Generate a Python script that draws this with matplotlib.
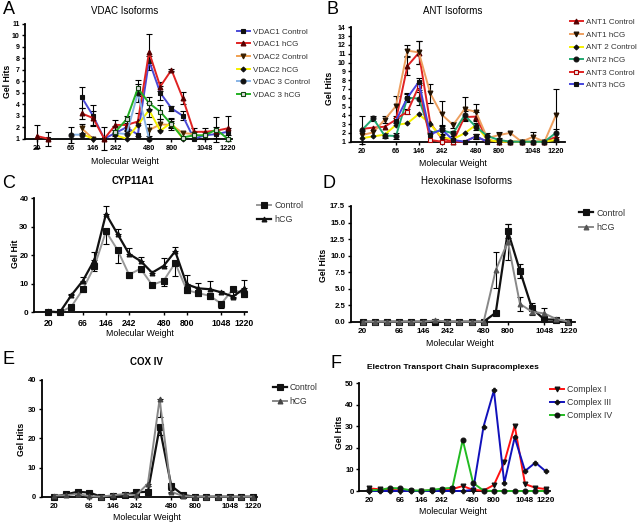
import numpy as np
import matplotlib
matplotlib.use("Agg")
import matplotlib.pyplot as plt

plt.rcParams['font.family'] = ['Liberation Sans', 'DejaVu Sans']

nan = np.nan
positions = list(range(18))
tick_idx = [0, 3, 5, 7, 10, 12, 15, 17]
tick_labels = ["20", "66", "146", "242", "480", "800", "1048", "1220"]

# ---- Panel A: VDAC isoforms ----
vdac_labels = ["VDAC1 Control", "VDAC1 hCG", "VDAC2 Control", "VDAC2 hCG", "VDAC 3 Control", "VDAC 3 hCG"]
vdac1_ctrl = [nan, 1.0, nan, nan, 4.6, 3.0, 1.0, 1.5, 2.0, 1.35, 7.8, 5.0, 3.65, 3.0, 1.0, 1.3, 1.4, 1.6]
vdac1_hcg = [1.23, 1.0, nan, nan, 3.2, 2.8, 1.0, 2.2, 2.2, 2.5, 8.55, 5.55, 7.0, 4.55, 1.6, 1.6, 1.7, 1.9]
vdac2_ctrl = [nan, nan, nan, nan, 1.9, 1.0, nan, nan, nan, nan, 1.75, 2.25, 2.2, 1.5, 1.4, nan, nan, nan]
vdac2_hcg = [nan, nan, nan, nan, 1.4, 1.0, nan, 1.3, 1.0, 2.2, 3.5, 1.7, 2.4, 1.0, nan, nan, nan, nan]
vdac3_ctrl = [nan, nan, nan, 1.35, 1.35, nan, nan, 1.5, 1.4, 5.0, 1.0, nan, nan, nan, nan, nan, nan, nan]
vdac3_hcg = [nan, nan, nan, nan, nan, nan, nan, 1.6, 2.7, 5.4, 4.1, 3.35, 2.25, 1.1, 1.3, 1.3, 1.8, 1.0]
vdac1_ctrl_err = [0, 0.6, 0, 0, 0.9, 0.9, 0, 0.3, 0.3, 0, 0.4, 0.6, 0.2, 0.4, 0, 0.3, 0.3, 0.3]
vdac1_hcg_err = [1.0, 0, 0, 0, 0.5, 0.6, 1.0, 0.4, 0.4, 0, 1.6, 0.4, 0.1, 0.5, 0.3, 0.3, 0.3, 1.1]
vdac2_ctrl_err = [0, 0, 0, 0, 0.4, 0, 0, 0, 0, 0, 0.5, 0.5, 0.3, 0, 0, 0, 0, 0]
vdac2_hcg_err = [0, 0, 0, 0, 0, 0, 0, 0, 0, 1.0, 0.6, 0, 0.4, 0, 0, 0, 0, 0]
vdac3_ctrl_err = [0, 0, 0, 0.7, 0, 0, 0, 0, 0, 0.8, 0, 0, 0, 0, 0, 0, 0, 0]
vdac3_hcg_err = [0, 0, 0, 0, 0, 0, 0, 0.5, 0.3, 0.7, 0.5, 0.6, 0.5, 0, 0.3, 0.3, 1.1, 0]

# ---- Panel B: ANT isoforms ----
ant_labels = ["ANT1 Control", "ANT1 hCG", "ANT 2 Control", "ANT2 hCG", "ANT3 Control", "ANT3 hCG"]
ant1_ctrl = [2.45, 2.6, 2.7, 3.5, 9.6, 11.1, 3.1, 1.4, 1.0, 3.8, 3.85, 1.2, 1.0, 1.0, 1.0, 1.0, 1.0, 1.55]
ant1_hcg = [1.75, 2.05, 3.5, 5.05, 11.35, 11.15, 6.5, 4.1, 2.9, 4.7, 4.4, 1.4, 1.75, 2.0, 1.0, 1.55, 1.0, 4.0]
ant2_ctrl = [1.4, 1.6, 1.8, 2.9, 3.1, 4.15, 3.0, 1.5, 1.3, 1.95, 2.9, 1.2, 1.0, 1.0, 1.0, 1.0, 1.0, 1.2]
ant2_hcg = [2.3, 3.65, 1.7, 1.65, 6.0, 5.9, 2.0, 2.3, 1.95, 4.0, 2.7, 1.65, 1.2, 1.0, 1.0, 1.0, 1.0, 2.0]
ant3_ctrl = [nan, nan, nan, 3.6, 4.4, 7.3, 1.2, 1.0, 1.0, 1.0, 1.6, 1.0, nan, nan, nan, nan, nan, nan]
ant3_hcg = [nan, nan, nan, 3.4, 6.0, 7.8, 1.8, 2.4, 1.2, 1.0, 1.6, 1.0, nan, nan, nan, nan, nan, nan]
ant1_ctrl_err = [0, 0, 0, 0, 1.0, 1.3, 0, 0, 0, 0, 0.5, 0, 0, 0, 0, 0, 0, 0]
ant1_hcg_err = [0, 0, 0.4, 1.1, 0.65, 1.3, 1.1, 1.5, 0.3, 1.4, 0.9, 0, 0.3, 0, 0, 0.5, 0, 3.0]
ant2_ctrl_err = [0, 0, 0, 0, 0, 0, 0, 0, 0, 0, 0, 0, 0, 0, 0, 0, 0, 0]
ant2_hcg_err = [1.6, 0.3, 0.3, 0.3, 0.5, 0.7, 0, 0.5, 0.3, 0.5, 0.4, 0.3, 0, 0, 0, 0, 0, 0.5]
ant3_ctrl_err = [0, 0, 0, 0, 0.3, 0.4, 0, 0, 0, 0, 0.3, 0, 0, 0, 0, 0, 0, 0]
ant3_hcg_err = [0, 0, 0, 0.3, 0.4, 0.4, 0, 0.5, 0, 0, 0.3, 0, 0, 0, 0, 0, 0, 0]

# ---- Panel C: CYP11A1 ----
cyp_ctrl = [0.0, 0.0, 2.0, 8.1, 16.1, 28.4, 21.9, 13.2, 15.3, 9.6, 11.1, 17.3, 7.8, 6.7, 5.8, 3.0, 8.1, 6.4]
cyp_hcg = [0.3, 0.0, 6.0, 11.1, 18.4, 34.5, 27.5, 20.5, 18.0, 13.9, 16.3, 21.4, 9.8, 8.4, 8.1, 7.0, 5.5, 8.4]
cyp_ctrl_err = [0, 0, 1.0, 1.0, 1.5, 4.3, 4.5, 1.0, 1.2, 0.6, 2.0, 4.5, 1.0, 1.0, 1.2, 1.5, 3.0, 1.0]
cyp_hcg_err = [0.5, 0, 0.5, 1.3, 2.6, 2.9, 1.7, 2.2, 1.5, 0.5, 2.9, 1.4, 3.2, 1.8, 3.0, 0.5, 0.5, 2.9]

# ---- Panel D: Hexokinase ----
hex_ctrl = [0, 0, 0, 0, 0, 0, 0, 0, 0, 0, 0, 1.36, 13.7, 7.7, 2.0, 0.35, 0.3, 0.0]
hex_hcg = [0, 0, 0, 0, 0, 0, 0.2, 0, 0, 0, 0, 7.8, 12.1, 2.7, 1.5, 1.26, 0.4, 0.0]
hex_ctrl_err = [0, 0, 0, 0, 0, 0, 0, 0, 0, 0, 0, 0.2, 1.1, 1.1, 0.9, 0, 0, 0]
hex_hcg_err = [0, 0, 0, 0, 0, 0, 0, 0, 0, 0, 0, 2.7, 2.7, 1.1, 0.5, 0.8, 0, 0]

# ---- Panel E: COX IV ----
cox_ctrl = [0.0, 0.8, 1.7, 1.4, 0.0, 0.2, 0.6, 1.5, 1.7, 23.8, 3.7, 0.6, 0, 0, 0, 0, 0, 0]
cox_hcg = [0.4, 0.5, 0.9, 0.2, 0.0, 0.5, 0.9, 0.5, 4.5, 33.4, 1.7, 0.2, 0, 0, 0, 0, 0, 0]
cox_ctrl_err = [0, 0.2, 0.3, 0.3, 0, 0.3, 0.3, 0.3, 0.5, 2.8, 1.3, 0.2, 0, 0, 0, 0, 0, 0]
cox_hcg_err = [0, 0.2, 0.3, 0.3, 0, 0.3, 0.3, 0.3, 1.0, 6.0, 0.5, 0, 0, 0, 0, 0, 0, 0]

# ---- Panel F: ETC supracomplexes ----
etc_labels = ["Complex I", "Complex III", "Complex IV"]
complex1 = [1.2, 0.8, 0.5, 0.3, 0.0, 0.0, 0.3, 0.5, 0.9, 2.3, 0.5, 0.2, 2.8, 13.3, 30.3, 3.2, 1.5, 0.9]
complex3 = [0, 0, 0, 0, 0, 0, 0, 0, 0, 0, 0.5, 29.9, 46.7, 3.6, 24.9, 9.3, 13.2, 9.1]
complex4 = [0.3, 0.5, 1.4, 1.2, 0.3, 0.2, 0.5, 1.1, 1.5, 23.7, 3.7, 0.2, 0, 0, 0, 0, 0, 0]

W, H = 640, 525
fig = plt.figure(figsize=(6.4, 5.25), dpi=100)


def fx(x):
    return x / W


def fy(y):
    return 1 - y / H


def make_ax(l, t, r, b, xlim, ylim, yticks, yfmt=None, xfs=5.5, yfs=5.3):
    ax = fig.add_axes([fx(l), fy(b), fx(r) - fx(l), fy(t) - fy(b)])
    ax.set_xlim(*xlim)
    ax.set_ylim(*ylim)
    for s in ['top', 'right']:
        ax.spines[s].set_visible(False)
    for s in ['left', 'bottom']:
        ax.spines[s].set_linewidth(1.3)
    ax.set_xticks(tick_idx)
    ax.set_xticklabels(tick_labels, fontsize=xfs, fontweight='bold')
    ax.set_yticks(yticks)
    if yfmt:
        ax.set_yticklabels([yfmt.format(v) for v in yticks])
    ax.tick_params(axis='x', direction='out', length=2.5, width=1.0, pad=2.0)
    ax.tick_params(axis='y', direction='out', length=2.5, width=1.0, pad=1.5, labelsize=yfs)
    for lab in ax.get_yticklabels():
        lab.set_fontweight('bold')
    return ax


def series(ax, y, err, color, marker, mfc, mec, label, errdir='both', ms=3.5, lw=1.4, z=3):
    y = np.array(y, dtype=float)
    if err is not None:
        err = np.array(err, dtype=float)
        lo = err if errdir in ('both', 'down') else np.zeros_like(err)
        hi = err if errdir in ('both', 'up') else np.zeros_like(err)
        mask = (err > 0) & ~np.isnan(y)
        ax.errorbar(np.array(positions)[mask], y[mask], yerr=[lo[mask], hi[mask]],
                    fmt='none', ecolor='black', elinewidth=0.8, capsize=2, capthick=0.8,
                    zorder=z - 1, clip_on=False)
    ax.plot(positions, y, color=color, lw=lw, marker=marker, ms=ms, mfc=mfc, mec=mec, mew=0.8,
            label=label, zorder=z, clip_on=False)


def legend(ax, x, y, fs=5.8, spacing=0.62, hl=1.6):
    leg = ax.legend(loc='upper left', bbox_to_anchor=(fx(x), fy(y)), bbox_transform=fig.transFigure,
                    frameon=False, fontsize=fs, handlelength=hl, handletextpad=0.35, labelspacing=spacing,
                    borderpad=0, borderaxespad=0)
    for t in leg.get_texts():
        t.set_color('#333333')
    return leg


def label_texts(title, title_xy, title_kw, xl_xy, yl_xy, ylab, letter, letter_xy):
    fig.text(fx(title_xy[0]), fy(title_xy[1]), title, ha='center', va='center', **title_kw)
    fig.text(fx(xl_xy[0]), fy(xl_xy[1]), "Molecular Weight", ha='center', va='center', fontsize=6.3)
    fig.text(fx(yl_xy[0]), fy(yl_xy[1]), ylab, ha='center', va='center', rotation=90, fontsize=6.3, fontweight='bold')
    fig.text(fx(letter_xy[0]), fy(letter_xy[1]), letter, ha='left', va='center', fontsize=13)


# Panel A
axA = make_ax(25, 24, 232, 138.7, (-1.07, 17.4), (1, 11), list(range(1, 12)), xfs=5.3, yfs=5.0)
series(axA, vdac1_ctrl, vdac1_ctrl_err, '#4a4ad6', 's', '#111111', '#111111', vdac_labels[0])
series(axA, vdac1_hcg, vdac1_hcg_err, '#e02222', '^', '#550000', '#550000', vdac_labels[1])
series(axA, vdac2_ctrl, vdac2_ctrl_err, '#f0a050', 'v', '#3a2000', '#3a2000', vdac_labels[2])
series(axA, vdac2_hcg, vdac2_hcg_err, '#f5f000', 'D', '#111111', '#111111', vdac_labels[3], ms=2.5)
series(axA, vdac3_ctrl, vdac3_ctrl_err, '#88b4e6', 'o', '#111111', '#111111', vdac_labels[4])
series(axA, vdac3_hcg, vdac3_hcg_err, '#22b022', 's', '#dddddd', '#114411', vdac_labels[5])
legend(axA, 237, 28)
label_texts("VDAC Isoforms", (125, 11), dict(fontsize=7), (125, 161), (8, 81), "Gel Hits", "A", (3, 9))

# Panel B
axB = make_ax(351, 27.3, 565, 141.7, (-0.94, 17.8), (1, 14), list(range(1, 15)), xfs=5.3, yfs=5.0)
series(axB, ant1_ctrl, ant1_ctrl_err, '#e02222', '^', '#550000', '#550000', ant_labels[0])
series(axB, ant1_hcg, ant1_hcg_err, '#eea060', 'v', '#221100', '#221100', ant_labels[1])
series(axB, ant2_ctrl, ant2_ctrl_err, '#f5f000', 'D', '#111111', '#111111', ant_labels[2], ms=2.5)
series(axB, ant2_hcg, ant2_hcg_err, '#20a870', 'o', '#111111', '#111111', ant_labels[3])
series(axB, ant3_ctrl, ant3_ctrl_err, '#e02222', 's', '#eeeeee', '#aa0000', ant_labels[4])
series(axB, ant3_hcg, ant3_hcg_err, '#4444dd', 's', '#111111', '#111111', ant_labels[5])
legend(axB, 570, 18.5)
label_texts("ANT Isoforms", (453, 11), dict(fontsize=7), (453, 163), (330, 88), "Gel Hits", "B", (326, 9))

# Panel C
axC = make_ax(34, 198.3, 246.7, 312.3, (-1.24, 17.2), (0, 40), [0, 10, 20, 30, 40], xfs=6.2, yfs=5.8)
series(axC, cyp_ctrl, cyp_ctrl_err, '#999999', 's', '#111111', '#111111', "Control", errdir='down', ms=4)
series(axC, cyp_hcg, cyp_hcg_err, '#111111', '^', '#111111', '#111111', "hCG", errdir='up', ms=3.5, lw=1.6)
legend(axC, 257, 201.0, fs=6.4, spacing=0.6)
label_texts("CYP11A1", (132.7, 181), dict(fontsize=7, fontweight='bold'), (140, 334), (16, 254), "Gel Hit", "C", (2, 183))

# Panel D
axD = make_ax(350.7, 206, 575, 321.7, (-0.99, 17.55), (0, 17.5), [0, 2.5, 5, 7.5, 10, 12.5, 15, 17.5],
              yfmt="{:.1f}", xfs=5.9, yfs=5.6)
series(axD, hex_ctrl, hex_ctrl_err, '#111111', 's', '#111111', '#111111', "Control", errdir='both', ms=4, lw=1.6)
series(axD, hex_hcg, hex_hcg_err, '#888888', '^', '#555555', '#555555', "hCG", errdir='both', ms=3.5)
legend(axD, 579, 208.5, fs=6.4, spacing=0.6)
label_texts("Hexokinase Isoforms", (466.7, 181), dict(fontsize=7), (460, 344), (324, 265), "Gel Hits", "D", (322, 183))

# Panel E
axE = make_ax(41.7, 380, 256.7, 496.7, (-1.08, 17.3), (0, 40), [0, 10, 20, 30, 40], xfs=5.6, yfs=5.4)
series(axE, cox_ctrl, cox_ctrl_err, '#111111', 's', '#111111', '#111111', "Control", errdir='down', ms=4, lw=1.6)
series(axE, cox_hcg, cox_hcg_err, '#888888', '^', '#444444', '#444444', "hCG", errdir='down', ms=3.5)
legend(axE, 273, 383.0, fs=6.2, spacing=0.62)
label_texts("COX IV", (146.7, 361.7), dict(fontsize=7, fontweight='bold'), (147, 518), (22, 439), "Gel Hits", "E", (2, 359))

# Panel F
axF = make_ax(359.3, 383.3, 550, 491, (-0.96, 17.4), (0, 50), [0, 10, 20, 30, 40, 50], xfs=5.9, yfs=5.6)
series(axF, complex1, None, '#ff1111', 'v', '#111111', '#111111', etc_labels[0])
series(axF, complex3, None, '#1111bb', 'P', '#111111', '#111111', etc_labels[1], ms=3.2)
series(axF, complex4, None, '#22bb22', 'o', '#111111', '#111111', etc_labels[2])
legend(axF, 550, 385.0, fs=6.3, spacing=0.45)
label_texts("Electron Transport Chain Supracomplexes", (452.7, 367.7), dict(fontsize=6, fontweight='bold'),
            (452.7, 511.7), (339, 432), "Gel Hits", "F", (330, 363))

fig.savefig("out.png", dpi=100)
